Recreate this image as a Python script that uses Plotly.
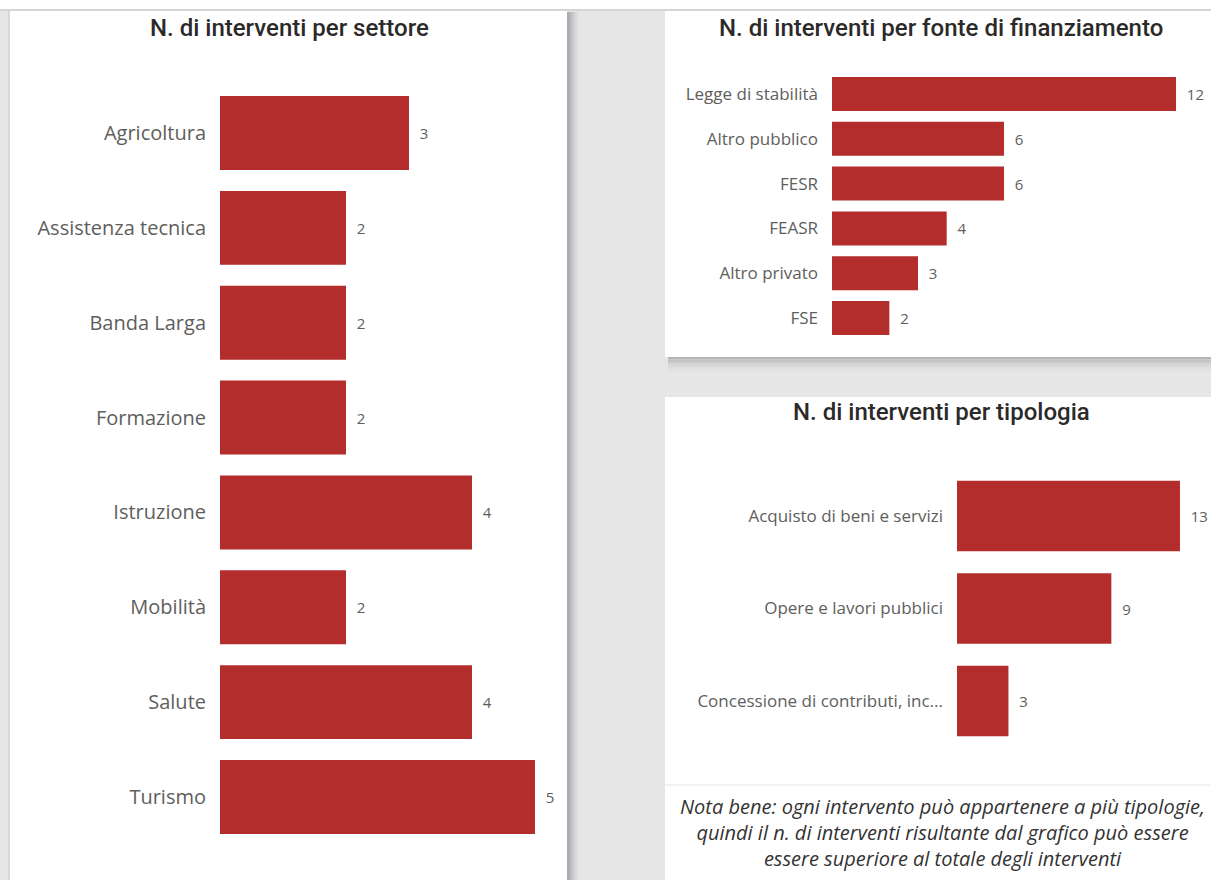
import plotly.graph_objects as go

# ### data
settori = ["Agricoltura", "Assistenza tecnica", "Banda Larga", "Formazione",
           "Istruzione", "Mobilità", "Salute", "Turismo"]
settori_n = [3, 2, 2, 2, 4, 2, 4, 5]

fonti = ["Legge di stabilità", "Altro pubblico", "FESR", "FEASR", "Altro privato", "FSE"]
fonti_n = [12, 6, 6, 4, 3, 2]

tipologie = ["Acquisto di beni e servizi", "Opere e lavori pubblici",
             "Concessione di contributi, inc..."]
tipologie_n = [13, 9, 3]

W, H = 1211, 880
BAR = "#b32d2c"
GREY_TXT = "#605e5c"
TITLE_FONT = "Roboto, 'DejaVu Sans Condensed', sans-serif"
LABEL_FONT = "'Open Sans', 'Noto Sans', sans-serif"


def px_x(v):
    return v / W


def px_y(v):
    return 1 - v / H


fig = go.Figure()


def add_bars(names, vals, xa, ya, width):
    fig.add_trace(go.Bar(
        y=names, x=vals, orientation="h", marker=dict(color=BAR, line=dict(width=0)),
        width=width, text=vals, texttemplate="  %{x}", textposition="outside",
        cliponaxis=False, constraintext="none",
        textfont=dict(size=15, color=GREY_TXT, family=LABEL_FONT),
        xaxis=xa, yaxis=ya, showlegend=False, hoverinfo="y+x"))


add_bars(settori, settori_n, "x", "y", 0.78)
add_bars(fonti, fonti_n, "x2", "y2", 0.76)
add_bars(tipologie, tipologie_n, "x3", "y3", 0.76)

ax_common = dict(visible=False, fixedrange=True)
y_common = dict(autorange="reversed", showgrid=False, zeroline=False, showline=False,
                ticks="", ticklabelstandoff=13, fixedrange=True)

fig.update_layout(
    width=W, height=H, margin=dict(l=0, r=0, t=0, b=0),
    paper_bgcolor="#e6e6e6", plot_bgcolor="rgba(0,0,0,0)", bargap=0.2,
    xaxis=dict(domain=[px_x(220), px_x(560)], range=[0, 340 / 63], **ax_common),
    yaxis=dict(domain=[px_y(844.4), px_y(85.6)], anchor="x",
               tickfont=dict(size=20, color=GREY_TXT, family=LABEL_FONT), **y_common),
    xaxis2=dict(domain=[px_x(832), 1], range=[0, 379 / 28.67], anchor="y2", **ax_common),
    yaxis2=dict(domain=[px_y(340.4), px_y(71.6)], anchor="x2",
                tickfont=dict(size=17, color=GREY_TXT, family=LABEL_FONT), **y_common),
    xaxis3=dict(domain=[px_x(957), 1], range=[0, 254 / 17.15], anchor="y3", **ax_common),
    yaxis3=dict(domain=[px_y(747.25), px_y(469.75)], anchor="x3",
                tickfont=dict(size=17, color=GREY_TXT, family=LABEL_FONT), **y_common),
)

# panels and shadows (all in paper coords)
P = dict(xref="paper", yref="paper", layer="below")
shapes = [
    dict(type="rect", x0=0, x1=1, y0=px_y(10), y1=1, fillcolor="white", line_width=0, **P),
    dict(type="line", x0=0, x1=1, y0=px_y(10), y1=px_y(10),
         line=dict(color="#d4d4d4", width=2), **P),
]
# left panel shadow (right edge)
for i, c in enumerate(["#a9aaad", "#b6b7ba", "#c3c4c6", "#cfd0d2", "#d9d9da", "#e1e1e1"]):
    shapes.append(dict(type="rect", x0=px_x(567 + 2 * i), x1=px_x(569 + 2 * i),
                       y0=0, y1=px_y(12), fillcolor=c, line_width=0, **P))
# top-right panel shadow (bottom edge)
for i, c in enumerate(["#b4b5b7", "#c2c3c5", "#cecfd0", "#d8d8d9", "#dfdfdf", "#e3e3e3"]):
    shapes.append(dict(type="rect", x0=px_x(668), x1=1, y0=px_y(359.5 + 2.5 * i),
                       y1=px_y(357 + 2.5 * i), fillcolor=c, line_width=0, **P))
shapes += [
    dict(type="rect", x0=px_x(10), x1=px_x(567), y0=0, y1=px_y(11), fillcolor="white",
         line_width=0, **P),
    dict(type="line", x0=px_x(9), x1=px_x(9), y0=0, y1=px_y(11),
         line=dict(color="#d8d8d8", width=2), **P),
    dict(type="rect", x0=px_x(665), x1=1, y0=px_y(357), y1=px_y(11), fillcolor="white",
         line_width=0, **P),
    dict(type="rect", x0=px_x(665), x1=1, y0=0, y1=px_y(397), fillcolor="white",
         line_width=0, **P),
    dict(type="line", x0=px_x(665), x1=1, y0=px_y(785), y1=px_y(785),
         line=dict(color="#eeeeee", width=1.5), **P),
]
fig.update_layout(shapes=shapes)

title_font = dict(family=TITLE_FONT, size=24, color="#2b2a29", weight=500)
A = dict(xref="paper", yref="paper", showarrow=False, xanchor="center", yanchor="middle")
fig.add_annotation(text="N. di interventi per settore", x=px_x(289), y=px_y(28),
                   font=title_font, **A)
fig.add_annotation(text="N. di interventi per fonte di finanziamento", x=px_x(941),
                   y=px_y(28), font=title_font, **A)
fig.add_annotation(text="N. di interventi per tipologia", x=px_x(941), y=px_y(412),
                   font=title_font, **A)
fig.add_annotation(
    text="<i>Nota bene: ogni intervento può appartenere a più tipologie,<br>"
         "quindi il n. di interventi risultante dal grafico può essere<br>"
         "essere superiore al totale degli interventi</i>",
    x=px_x(943), y=px_y(832), font=dict(family=LABEL_FONT, size=20, color="#333333"),
    align="center", **A)

fig.write_html("out.html", config={"displayModeBar": False},
               post_script="document.body.style.margin='0';")
